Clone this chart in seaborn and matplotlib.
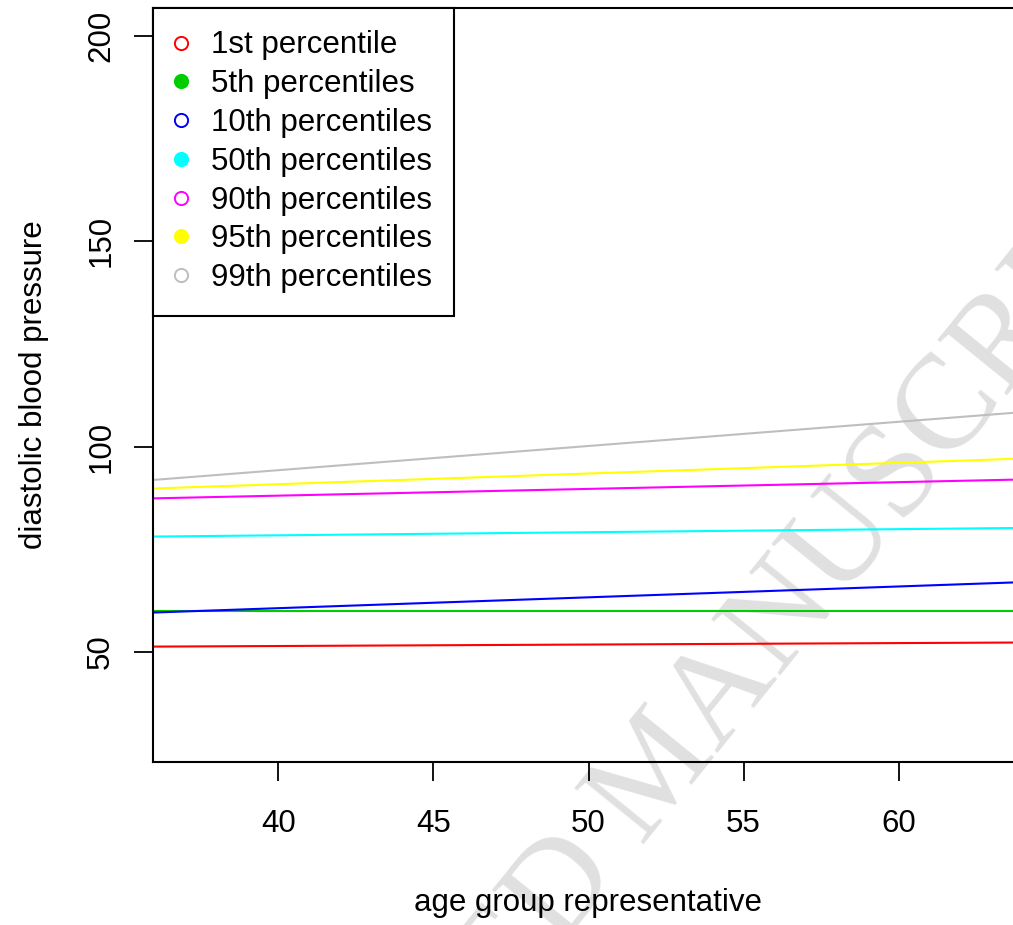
import numpy as np
import pandas as pd
import matplotlib
matplotlib.use("Agg")
import matplotlib.pyplot as plt
import seaborn as sns
from matplotlib.lines import Line2D

# ---- data ----
ages = [36, 64]
p1 = [51.3, 52.3]
p5 = [60.0, 60.0]
p10 = [59.6, 67.0]
p50 = [78.1, 80.2]
p90 = [87.4, 92.0]
p95 = [89.8, 97.1]
p99 = [91.9, 108.4]
series_labels = ["1st percentile", "5th percentiles", "10th percentiles",
                 "50th percentiles", "90th percentiles", "95th percentiles",
                 "99th percentiles"]
series_values = [p1, p5, p10, p50, p90, p95, p99]
colors = ["#FF0000", "#00CD00", "#0000FF", "#00FFFF", "#FF00FF", "#FFFF00", "#BEBEBE"]
filled = [False, True, False, True, False, True, False]
xticks = [40, 45, 50, 55, 60]
yticks = [50, 100, 150, 200]

sns.set_theme(style="white")
plt.rcParams['font.family'] = ['Liberation Sans', 'DejaVu Sans']
plt.rcParams['text.color'] = 'black'
plt.rcParams['axes.labelcolor'] = 'black'

FS = 22.5

rows = []
for lab, vals in zip(series_labels, series_values):
    for a, v in zip(ages, vals):
        rows.append({"age": a, "value": v, "series": lab})
df = pd.DataFrame(rows)

W, H = 1013, 925
fig = plt.figure(figsize=(W / 100, H / 100), dpi=100)
fig.patch.set_facecolor("white")
ax = fig.add_axes([153 / W, (H - 762) / H, (1024 - 153) / W, (762 - 8) / H])
ax.set_facecolor("none")

sns.lineplot(data=df, x="age", y="value", hue="series", hue_order=series_labels,
             palette=dict(zip(series_labels, colors)), ax=ax, legend=False,
             linewidth=1.5)

ax.set_xlim(35.96, 64.04)
ax.set_ylim(23.2, 206.8)
ax.set_xticks(xticks)
ax.set_yticks(yticks)
ax.set_xticklabels([str(t) for t in xticks])
ax.set_yticklabels([str(t) for t in yticks])

for sp in ax.spines.values():
    sp.set_visible(True)
    sp.set_color("black")
    sp.set_linewidth(1.5)

ax.tick_params(axis="both", direction="out", length=13.5, width=1.3,
               color="black", labelsize=FS, labelcolor="black")
ax.tick_params(axis="x", pad=20, bottom=True)
ax.tick_params(axis="y", pad=13, left=True, labelrotation=90)
for lab in ax.get_yticklabels():
    lab.set_va("center")

ax.set_xlabel("age group representative", fontsize=FS, color="black")
ax.set_ylabel("diastolic blood pressure", fontsize=FS, color="black")
ax.xaxis.set_label_coords(0.5, (762 - 903) / 754)
ax.xaxis.label.set_va("center")
ax.yaxis.set_label_coords((34 - 153) / 871, 0.5)
ax.yaxis.label.set_va("center")

handles = [Line2D([], [], linestyle="none", marker="o", markersize=9.5,
                  markeredgewidth=1.4, markeredgecolor=c,
                  markerfacecolor=(c if f else "none"))
           for c, f in zip(colors, filled)]
leg = ax.legend(handles, series_labels, loc="upper left", borderaxespad=0,
                fontsize=FS, frameon=True, fancybox=False, framealpha=1,
                edgecolor="black", handlelength=0.35, handletextpad=0.78,
                borderpad=0.72, labelspacing=0.28, labelcolor="black")
leg.get_frame().set_linewidth(1.5)

# faint watermark stamp
fig.text(660 / W, 1 - 772 / H, "ACCEPTED MANUSCRIPT", rotation=51,
         ha="center", va="center", rotation_mode="anchor", fontsize=97,
         family="Liberation Serif", color="#e0e0e0", zorder=-1)

fig.savefig("out.png", dpi=100, facecolor="white")
